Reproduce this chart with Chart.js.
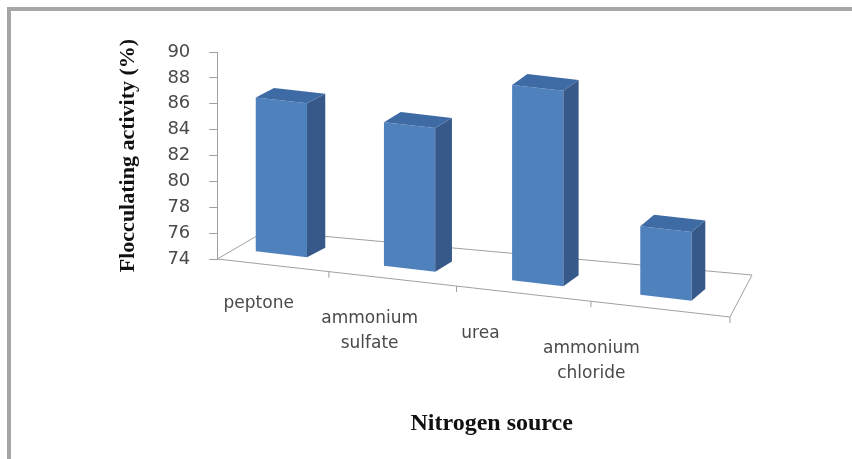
<!DOCTYPE html>
<html>
<head>
<meta charset="utf-8">
<script src="https://cdn.jsdelivr.net/npm/chart.js@4"></script>
<style>
  body { margin: 0; background: #fff; }
  #wrap { position: relative; width: 852px; height: 459px; }
  #frame { position: absolute; left: 7px; top: 7px; right: 0; bottom: 0;
           border-left: 4px solid #a6a6a6; border-top: 4px solid #a6a6a6; }
  #myChart { position: absolute; left: 0; top: 0; }
</style>
</head>
<body>
<div id="wrap">
  <div id="frame"></div>
  <canvas id="myChart" width="852" height="459"></canvas>
</div>
<script>
// nitrogen sources on the x-axis
var sources = ["peptone", ["ammonium", "sulfate"], "urea", ["ammonium", "chloride"]];
// flocculating activity, %
var activity = [85.9, 85.1, 89.1, 79.3];
// y-axis range and step
var yMin = 74, yMax = 90, yStep = 2;

var frontColor = "#4f81bd";
var sideColor = "#36598a";
var topColor = "#3f6ba4";
var lineColor = "#a0a0a0";

// perspective of the floor and the columns
var floorDrop = 58;          // front edge falls this much from left to right
var backLeft = [48, -28];    // depth of the floor at its left end
var backRight = [22, -42];   // depth of the floor at its right end
var barInset = 12;           // columns stand a little behind the front edge
var sideLeft = [19, -9];     // column side depth, leftmost
var sideRight = [13, -12];   // column side depth, rightmost
var foreshorten = 1.1;       // far end of the front edge looks squeezed

function poly(ctx, pts, fill) {
  ctx.beginPath();
  ctx.moveTo(pts[0][0], pts[0][1]);
  for (var i = 1; i < pts.length; i++) ctx.lineTo(pts[i][0], pts[i][1]);
  ctx.closePath();
  ctx.fillStyle = fill;
  ctx.fill();
}

// draws the floor, the 3-d columns and the category labels
var bar3d = {
  id: "bar3d",
  beforeDatasetsDraw: function(chart) {
    var ctx = chart.ctx, area = chart.chartArea, xs = chart.scales.x, ys = chart.scales.y;
    var left = area.left, right = area.right, bottom = area.bottom;
    var w = right - left;
    var frontY = function(px) { return bottom + (px - left) * floorDrop / w; };
    var shear = function(px) { return (px - left) * floorDrop / w - barInset; };

    ctx.save();
    // floor
    ctx.strokeStyle = lineColor;
    ctx.lineWidth = 1;
    ctx.beginPath();
    ctx.moveTo(left, bottom);
    ctx.lineTo(left + backLeft[0], bottom + backLeft[1]);
    ctx.lineTo(right + backRight[0], frontY(right) + backRight[1]);
    ctx.lineTo(right, frontY(right));
    ctx.closePath();
    ctx.stroke();

    // tick marks between categories
    ctx.beginPath();
    for (var i = 1; i <= sources.length; i++) {
      var px = left + w * Math.pow(i / sources.length, foreshorten);
      ctx.moveTo(px, frontY(px));
      ctx.lineTo(px, frontY(px) + 6);
    }
    ctx.stroke();

    // columns stand on the floor of the value axis, not on zero
    var floorPx = ys.getPixelForValue(yMin);
    var meta = chart.getDatasetMeta(0);
    meta.data.forEach(function(bar) {
      var p = bar.getProps(["x", "y", "width"], true);
      var x0 = p.x - p.width / 2, x1 = p.x + p.width / 2;
      var t = (p.x - left) / w;
      var sx = sideLeft[0] + (sideRight[0] - sideLeft[0]) * t;
      var sy = sideLeft[1] + (sideRight[1] - sideLeft[1]) * t;
      var tl = [x0, p.y + shear(x0)], tr = [x1, p.y + shear(x1)];
      var br = [x1, floorPx + shear(x1)], bl = [x0, floorPx + shear(x0)];
      poly(ctx, [tl, tr, br, bl], frontColor);
      poly(ctx, [tr, [tr[0] + sx, tr[1] + sy], [br[0] + sx, br[1] + sy], br], sideColor);
      poly(ctx, [tl, tr, [tr[0] + sx, tr[1] + sy], [tl[0] + sx, tl[1] + sy]], topColor);
    });

    // category labels, set out along the front edge
    ctx.font = '17px "DejaVu Sans"';
    ctx.fillStyle = "#4a4a4a";
    ctx.textAlign = "center";
    ctx.textBaseline = "middle";
    sources.forEach(function(lab, i) {
      var c = xs.getPixelForValue(i);
      var lx = left + (c - left) * 0.865 - 14;
      var ly = frontY(lx) + 40 + 2.5 * i;
      var lines = Array.isArray(lab) ? lab : [lab];
      lines.forEach(function(s, j) { ctx.fillText(s, lx, ly + j * 25); });
    });

    // x-axis title
    ctx.font = 'bold 24px "Liberation Serif"';
    ctx.fillStyle = "#111";
    ctx.fillText("Nitrogen source", (left + right) / 2 + 18, bottom + 165);
    ctx.restore();
    return false;
  }
};

new Chart(document.getElementById("myChart"), {
  type: "bar",
  data: {
    labels: sources,
    datasets: [
      {
        label: "Flocculating activity",
        data: activity,
        backgroundColor: frontColor,
        barPercentage: 0.8,
        categoryPercentage: 0.5
      }
    ]
  },
  options: {
    responsive: false,
    animation: false,
    devicePixelRatio: 1,
    layout: { padding: { left: 115, top: 52, right: 122, bottom: 200 } },
    plugins: { legend: { display: false }, tooltip: { enabled: false } },
    scales: {
      x: { display: false },
      y: {
        min: yMin,
        max: yMax,
        ticks: {
          stepSize: yStep,
          padding: 19,
          color: "#4a4a4a",
          font: { family: "DejaVu Sans", size: 18 }
        },
        grid: { drawOnChartArea: false, tickLength: 8, color: lineColor },
        border: { color: lineColor },
        title: {
          display: true,
          text: "Flocculating activity (%)",
          color: "#111",
          font: { family: "Liberation Serif", size: 22, weight: "bold" },
          padding: { top: 0, bottom: 7 }
        }
      }
    }
  },
  plugins: [bar3d]
});
</script>
</body>
</html>
